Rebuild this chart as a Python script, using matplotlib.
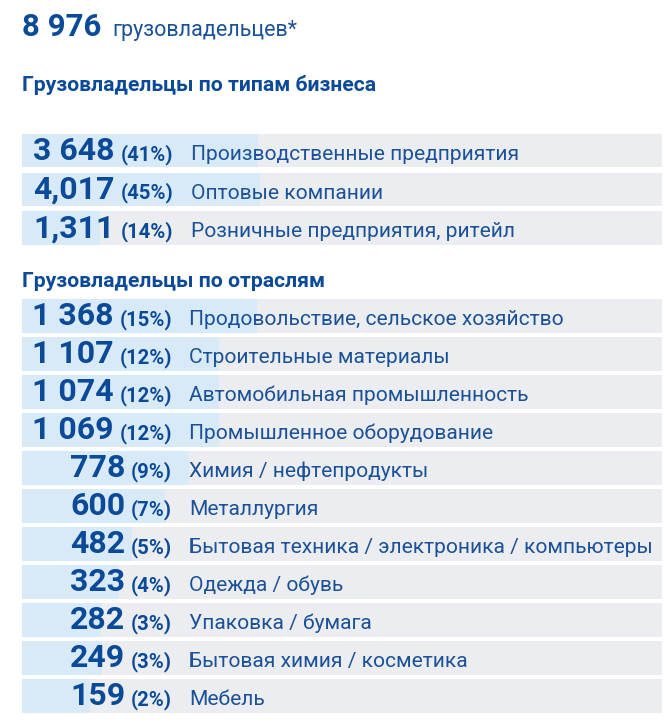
import matplotlib
matplotlib.use("Agg")
import matplotlib.pyplot as plt

plt.rcParams['font.family'] = ['Roboto', 'DejaVu Sans']

# ---------------- data ----------------
total_value = "8 976"
total_label = "грузовладельцев*"

biz_title = "Грузовладельцы по типам бизнеса"
biz_numbers = ["3 648", "4,017", "1,311"]
biz_pct = [41, 45, 14]
biz_labels = ["Производственные предприятия", "Оптовые компании",
              "Розничные предприятия, ритейл"]
# filled part of each row (% of row width)
biz_bar = [36.9, 37.2, 12.2]

ind_title = "Грузовладельцы по отраслям"
ind_numbers = ["1 368", "1 107", "1 074", "1 069", "778", "600", "482",
               "323", "282", "249", "159"]
ind_pct = [15, 12, 12, 12, 9, 7, 5, 4, 3, 3, 2]
ind_labels = ["Продовольствие, сельское хозяйство", "Строительные материалы",
              "Автомобильная промышленность", "Промышленное оборудование",
              "Химия / нефтепродукты", "Металлургия",
              "Бытовая техника / электроника / компьютеры", "Одежда / обувь",
              "Упаковка / бумага", "Бытовая химия / косметика", "Мебель"]
ind_bar = [36.7, 30.8, 30.8, 30.8, 26.1, 22.3, 17.2, 15.2, 12.3, 12.5, 10.6]

# ---------------- style ----------------
W, H = 672, 726
NUM_C = "#0b4a98"
LBL_C = "#1b5199"
BG_C = "#ebedf0"
FILL_C = "#d8eaf8"

fig = plt.figure(figsize=(W / 100, H / 100), dpi=100)
fig.patch.set_facecolor("white")

def px_axes(x0, y0, x1, y1):
    return fig.add_axes([x0 / W, 1 - y1 / H, (x1 - x0) / W, (y1 - y0) / H])

def section(ax, numbers, pcts, labels, bars, bar_h, pct_right, label_x):
    n = len(numbers)
    ys = list(range(n))
    ax.barh(ys, [100] * n, height=bar_h, left=0, color=BG_C, lw=0)
    ax.barh(ys, bars, height=bar_h, left=0, color=FILL_C, lw=0)
    ax.set_xlim(0, 100)
    ax.set_ylim(n - 0.5, -0.5)
    ax.axis("off")
    for y, num, p, lab in zip(ys, numbers, pcts, labels):
        yb = y + 0.25
        pt = ax.text(pct_right, yb, f"({p}%)", ha="right", va="baseline",
                     fontsize=14.6, fontweight="bold", color=NUM_C)
        ax.annotate(num, xy=(0, yb), xycoords=(pt, "data"),
                    xytext=(-4, 0), textcoords="offset points",
                    ha="right", va="baseline", fontsize=23,
                    fontweight="bold", color=NUM_C)
        ax.text(label_x, yb, lab, ha="left", va="baseline", fontsize=15.1,
                color=LBL_C)

# row geometry: x from 22 to 662 px
def xdata(px):
    return (px - 22) / 640 * 100

# header
hdr = fig.add_axes([0, 0, 1, 1])
hdr.set_xlim(0, W)
hdr.set_ylim(H, 0)
hdr.axis("off")
t = hdr.text(22, 36, total_value, ha="left", va="baseline", fontsize=22.5,
             fontweight="bold", color=NUM_C)
hdr.annotate(total_label, xy=(1, 36), xycoords=(t, "data"), xytext=(8, 0),
             textcoords="offset points", ha="left", va="baseline",
             fontsize=15.5, color=LBL_C)
hdr.text(22, 91, biz_title, ha="left", va="baseline", fontsize=15.2,
         fontweight="bold", color=NUM_C)
hdr.text(22, 287, ind_title, ha="left", va="baseline", fontsize=15.2,
         fontweight="bold", color=NUM_C)

# business section: row centers 150.75 + 38.5 i
ax1 = px_axes(22, 150.75 - 19.25, 662, 150.75 + 2.5 * 38.5)
section(ax1, biz_numbers, biz_pct, biz_labels, biz_bar, 33.5 / 38.5,
        xdata(173), xdata(191))

# industry section: row centers 315.85 + 38.0 i
ax2 = px_axes(22, 315.85 - 19.0, 662, 315.85 + 10.5 * 38.0)
section(ax2, ind_numbers, ind_pct, ind_labels, ind_bar, 33.7 / 38.0,
        xdata(172), xdata(189))

fig.savefig("out.png", dpi=100, facecolor="white")
